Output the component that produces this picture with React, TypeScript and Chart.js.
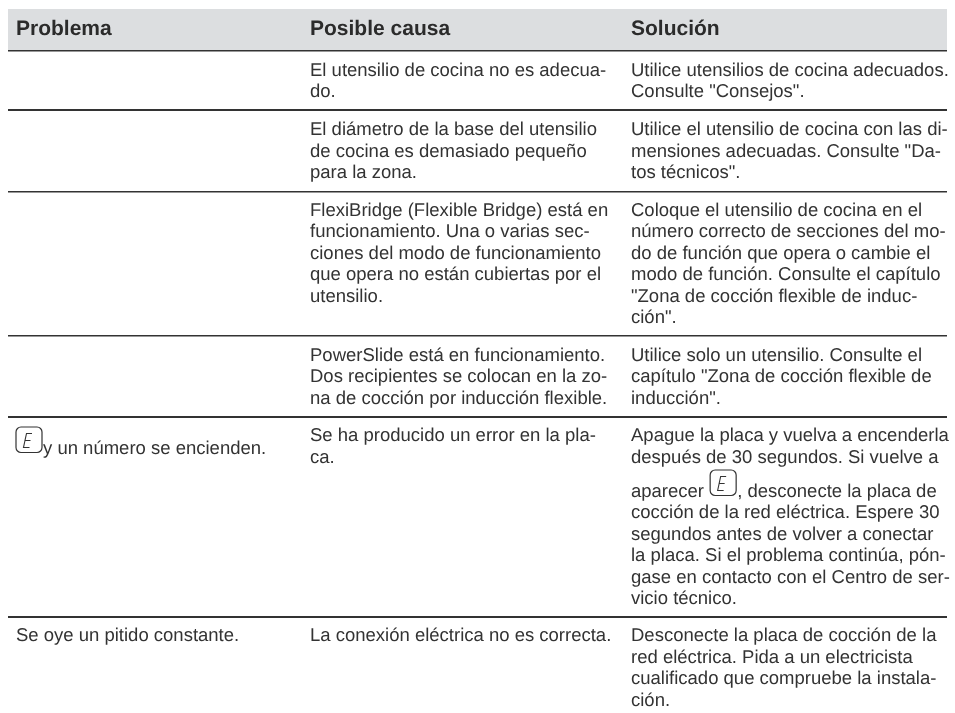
import React, { useEffect, useRef } from "react";
import { Chart, registerables } from "chart.js";

Chart.register(...registerables);

const columnHeaders = ["Problema", "Posible causa", "Solución"];
const columnStarts = [16, 310, 631];
const rowRules = [51, 110, 192, 336, 417, 617];
const ruleWidths = [1.5, 2, 1.5, 1.5, 2, 2];
const rowBaselines = [75.5, 135, 215.5, 360.5, 441, 641];
const problemLines = [
  [],
  [],
  [],
  [],
  ["y un número se encienden."],
  ["Se oye un pitido constante."],
];
const causeLines = [
  ["El utensilio de cocina no es adecua-", "do."],
  ["El diámetro de la base del utensilio", "de cocina es demasiado pequeño", "para la zona."],
  [
    "FlexiBridge (Flexible Bridge) está en",
    "funcionamiento. Una o varias sec-",
    "ciones del modo de funcionamiento",
    "que opera no están cubiertas por el",
    "utensilio.",
  ],
  [
    "PowerSlide está en funcionamiento.",
    "Dos recipientes se colocan en la zo-",
    "na de cocción por inducción flexible.",
  ],
  ["Se ha producido un error en la pla-", "ca."],
  ["La conexión eléctrica no es correcta."],
];
const solutionLines = [
  ["Utilice utensilios de cocina adecuados.", "Consulte \"Consejos\"."],
  ["Utilice el utensilio de cocina con las di-", "mensiones adecuadas. Consulte \"Da-", "tos técnicos\"."],
  [
    "Coloque el utensilio de cocina en el",
    "número correcto de secciones del mo-",
    "do de función que opera o cambie el",
    "modo de función. Consulte el capítulo",
    "\"Zona de cocción flexible de induc-",
    "ción\".",
  ],
  ["Utilice solo un utensilio. Consulte el", "capítulo \"Zona de cocción flexible de", "inducción\"."],
  [
    "Apague la placa y vuelva a encenderla",
    "después de 30 segundos. Si vuelve a",
    "aparecer ",
    "cocción de la red eléctrica. Espere 30",
    "segundos antes de volver a conectar",
    "la placa. Si el problema continúa, pón-",
    "gase en contacto con el Centro de ser-",
    "vicio técnico.",
  ],
  [
    "Desconecte la placa de cocción de la",
    "red eléctrica. Pida a un electricista",
    "cualificado que compruebe la instala-",
    "ción.",
  ],
];
const inlineTail = ", desconecte la placa de";

const INK = "#333333";
const FONT = "18.5px 'Liberation Sans', Arial, sans-serif";
const BOLD = "bold 21px 'Liberation Sans', Arial, sans-serif";
const LH = 21.5;

function drawEIcon(ctx: CanvasRenderingContext2D, x: number, y: number) {
  ctx.save();
  ctx.strokeStyle = "#333";
  ctx.lineWidth = 1.2;
  ctx.beginPath();
  ctx.roundRect(x, y, 26, 25.5, 5);
  ctx.stroke();
  ctx.lineWidth = 1.1;
  ctx.beginPath();
  ctx.moveTo(x + 16, y + 6.5);
  ctx.lineTo(x + 10.5, y + 6.5);
  ctx.lineTo(x + 9, y + 13.5);
  ctx.lineTo(x + 14.5, y + 13.5);
  ctx.moveTo(x + 9, y + 13.5);
  ctx.lineTo(x + 7.5, y + 20.5);
  ctx.lineTo(x + 13.5, y + 20.5);
  ctx.stroke();
  ctx.restore();
}

const tablePlugin = {
  id: "tablePlugin",
  beforeDraw(chart: any) {
    const { ctx, scales } = chart;
    const X = (v: number) => scales.x.getPixelForValue(v);
    const Y = (v: number) => scales.y.getPixelForValue(v);
    ctx.save();
    ctx.fillStyle = "#dcdee0";
    ctx.fillRect(X(8), Y(9), X(947) - X(8), Y(50) - Y(9));
    ctx.restore();
  },
  afterDatasetsDraw(chart: any) {
    const { ctx, scales } = chart;
    const X = (v: number) => scales.x.getPixelForValue(v);
    const Y = (v: number) => scales.y.getPixelForValue(v);
    ctx.save();
    ctx.textBaseline = "alphabetic";
    ctx.textRendering = "geometricPrecision";
    ctx.font = BOLD;
    ctx.fillStyle = "#2b2b2b";
    columnHeaders.forEach((h, i) => ctx.fillText(h, X(columnStarts[i]), Y(35)));
    ctx.font = FONT;
    ctx.fillStyle = INK;
    [problemLines, causeLines, solutionLines].forEach((col, c) => {
      col.forEach((lines, r) => {
        lines.forEach((line, l) => {
          let extra = 0;
          if (c === 2 && r === 4 && l > 1) extra = 12.5;
          if (c === 0 && r === 4) extra = 13;
          const y = Y(rowBaselines[r] + l * LH + extra);
          let x = X(columnStarts[c]);
          if (c === 0 && r === 4) x = X(43);
          ctx.fillText(line, x, y);
          if (c === 2 && r === 4 && l === 2) {
            const w = ctx.measureText(line).width;
            drawEIcon(ctx, x + w + 1, y - 26.5);
            ctx.fillText(inlineTail, x + w + 28, y);
          }
        });
      });
    });
    drawEIcon(ctx, X(16), Y(427));
    ctx.restore();
  },
};

export default function App() {
  const ref = useRef<HTMLCanvasElement | null>(null);
  useEffect(() => {
    document.body.style.margin = "0";
    const chart = new Chart(ref.current!, {
      type: "scatter",
      data: { datasets: [{ data: [], pointRadius: 0 }] },
      plugins: [tablePlugin],
      options: {
        animation: false,
        responsive: false,
        layout: { padding: { left: 8, right: 8, top: 0, bottom: 0 } },
        plugins: { legend: { display: false }, tooltip: { enabled: false } },
        scales: {
          x: { type: "linear", min: 8, max: 947, display: false },
          y: {
            type: "linear",
            min: 0,
            max: 713,
            reverse: true,
            position: "left",
            afterFit: (s: any) => { s.width = 0; },
            afterBuildTicks: (s: any) => { s.ticks = rowRules.map((value) => ({ value })); },
            ticks: { display: false },
            border: { display: false },
            grid: {
              color: "#333",
              lineWidth: (c: any) => ruleWidths[c.index] ?? 1.5,
              drawTicks: false,
            },
          },
        },
      },
    });
    return () => chart.destroy();
  }, []);
  return <canvas ref={ref} width={955} height={713} style={{ display: "block" }} />;
}
